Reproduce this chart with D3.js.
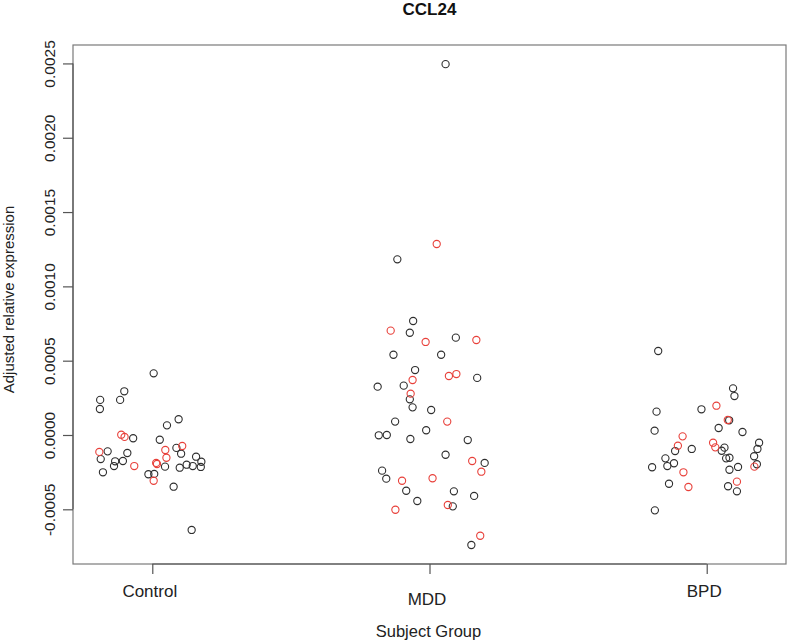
<!DOCTYPE html>
<html>
<head>
<meta charset="utf-8">
<script src="https://cdn.jsdelivr.net/npm/d3@7/dist/d3.min.js"></script>
<style>
  html, body { margin: 0; padding: 0; background: #fff; }
  svg { display: block; font-family: "Liberation Sans", Arial, Helvetica, sans-serif; }
</style>
</head>
<body>
<svg id="chart" width="788" height="642"></svg>
<script>
// ---------- data ----------
const title = "CCL24";
const xTitle = "Subject Group";
const yTitle = "Adjusted relative expression";
const categories = ["Control", "MDD", "BPD"];
const yTicks = [-0.0005, 0.0000, 0.0005, 0.0010, 0.0015, 0.0020, 0.0025];
const yTickLabels = ["-0.0005", "0.0000", "0.0005", "0.0010", "0.0015", "0.0020", "0.0025"];

// Control group: values, horizontal jitter (category units), colour flag (0 black, 1 red)
const controlValues = [0.000415, 0.000294, 0.000236, 0.000236, 0.000175, 0.000106, 0.000065, -0.000022, -0.000032, -0.000110,
  -0.000121, -0.000087, -0.000126, -0.000162, -0.000177, -0.000175, -0.000209, -0.000146, -0.000180, -0.000209,
  -0.000200, -0.000215, -0.000213, -0.000220, -0.000251, -0.000264, -0.000262, -0.000348, -0.000639,
  0.000002, -0.000013, -0.000114, -0.000209, -0.000101, -0.000153, -0.000074, -0.000188, -0.000195, -0.000308];
const controlJitter = [0.005, -0.101, -0.188, -0.116, -0.189, 0.095, 0.053, -0.069, 0.027, -0.161,
  -0.090, 0.087, 0.104, -0.186, -0.134, -0.106, -0.138, 0.158, 0.177, 0.146,
  0.124, 0.175, 0.046, 0.099, -0.178, -0.014, 0.007, 0.077, 0.142,
  -0.112, -0.100, -0.191, -0.065, 0.047, 0.051, 0.108, 0.014, 0.017, 0.005];
const controlRed = [0,0,0,0,0,0,0,0,0,0, 0,0,0,0,0,0,0,0,0,0, 0,0,0,0,0,0,0,0,0, 1,1,1,1,1,1,1,1,1,1];

const mddValues = [0.002495, 0.001182, 0.000767, 0.000688, 0.000655, 0.000540, 0.000540, 0.000437, 0.000384, 0.000325,
  0.000332, 0.000240, 0.000186, 0.000168, 0.000090, -0.000002, 0.000000, 0.000032, -0.000027, -0.000034,
  -0.000133, -0.000188, -0.000240, -0.000294, -0.000375, -0.000379, -0.000410, -0.000444, -0.000480, -0.000740,
  0.001285, 0.000702, 0.000626, 0.000639, 0.000370, 0.000397, 0.000410, 0.000278, 0.000090, -0.000175,
  -0.000247, -0.000308, -0.000291, -0.000471, -0.000503, -0.000678];
const mddJitter = [0.058, -0.116, -0.059, -0.071, 0.095, -0.130, 0.042, -0.052, 0.172, -0.187,
  -0.093, -0.071, -0.061, 0.006, -0.124, -0.183, -0.154, -0.012, -0.069, 0.138,
  0.058, 0.199, -0.171, -0.156, -0.084, 0.088, 0.161, -0.044, 0.084, 0.151,
  0.026, -0.140, -0.014, 0.169, -0.061, 0.070, 0.097, -0.068, 0.064, 0.154,
  0.187, -0.099, 0.011, 0.066, -0.123, 0.183];
const mddRed = [0,0,0,0,0,0,0,0,0,0, 0,0,0,0,0,0,0,0,0,0, 0,0,0,0,0,0,0,0,0,0,
  1,1,1,1,1,1,1,1,1,1, 1,1,1,1,1,1];

const bpdValues = [0.000565, 0.000314, 0.000262, 0.000173, 0.000157, 0.000099, 0.000047, 0.000029, 0.000020, -0.000108,
  -0.000094, -0.000085, -0.000106, -0.000052, -0.000094, -0.000143, -0.000157, -0.000157, -0.000153, -0.000190,
  -0.000209, -0.000217, -0.000197, -0.000215, -0.000234, -0.000328, -0.000345, -0.000379, -0.000507,
  0.000197, 0.000101, -0.000009, -0.000072, -0.000052, -0.000083, -0.000213, -0.000251, -0.000350, -0.000314];
const bpdJitter = [-0.175, 0.095, 0.100, -0.019, -0.181, 0.081, 0.043, -0.188, 0.129, -0.114,
  -0.054, 0.064, 0.054, 0.189, 0.183, 0.171, -0.149, 0.070, 0.082, -0.118,
  -0.142, -0.197, 0.181, 0.113, 0.082, -0.136, 0.077, 0.109, -0.187,
  0.035, 0.076, -0.087, -0.104, 0.023, 0.031, 0.172, -0.084, -0.066, 0.109];
const bpdRed = [0,0,0,0,0,0,0,0,0,0, 0,0,0,0,0,0,0,0,0,0, 0,0,0,0,0,0,0,0,0,
  1,1,1,1,1,1,1,1,1,1];

const groupValues = [controlValues, mddValues, bpdValues];
const groupJitter = [controlJitter, mddJitter, bpdJitter];
const groupRed = [controlRed, mddRed, bpdRed];

// ---------- layout ----------
const box = { left: 73, right: 786, top: 45, bottom: 564 };
const colBlack = "#2e2e2e";
const colRed = "#e8403a";

const svg = d3.select("#chart");

const x = d3.scaleLinear().domain([0.714, 3.286]).range([box.left, box.right]);
const y = d3.scaleLinear().domain([-0.000868, 0.002624]).range([box.bottom, box.top]);

// points
const points = [];
groupValues.forEach((vals, g) => {
  vals.forEach((v, i) => {
    points.push({ g: g + 1, v: v, j: groupJitter[g][i], red: groupRed[g][i] });
  });
});
points.sort((a, b) => a.red - b.red);

svg.append("g").selectAll("circle")
  .data(points)
  .enter().append("circle")
  .attr("cx", d => x(d.g + d.j))
  .attr("cy", d => y(d.v))
  .attr("r", 3.6)
  .attr("fill", "none")
  .attr("stroke", d => d.red ? colRed : colBlack)
  .attr("stroke-width", 1.1);

// box
svg.append("rect")
  .attr("x", box.left).attr("y", box.top)
  .attr("width", box.right - box.left).attr("height", box.bottom - box.top)
  .attr("fill", "none").attr("stroke", "#7a7a7a").attr("stroke-width", 1.2);

// y axis
const yAxis = d3.axisLeft(y).tickValues(yTicks).tickSize(10)
  .tickFormat((d, i) => yTickLabels[i]);
const gy = svg.append("g").attr("transform", `translate(${box.left},0)`).call(yAxis);
gy.select(".domain").attr("stroke", "#555").attr("stroke-width", 1.2)
  .attr("d", `M0,${y(yTicks[0])}V${y(yTicks[yTicks.length - 1])}`);
gy.selectAll(".tick line").attr("stroke", "#555").attr("stroke-width", 1.2);
gy.selectAll(".tick text")
  .attr("font-size", 15.5)
  .attr("fill", "#222")
  .attr("font-family", "Liberation Sans, Arial, sans-serif")
  .attr("text-anchor", "middle")
  .attr("x", 0).attr("dy", 0)
  .attr("transform", "translate(-18,0) rotate(-90)")
  .attr("y", 0);

// x axis
const xAxis = d3.axisBottom(x).tickValues([1, 2, 3]).tickSize(10)
  .tickFormat((d, i) => categories[i]);
const gx = svg.append("g").attr("transform", `translate(0,${box.bottom})`).call(xAxis);
gx.select(".domain").attr("stroke", "#555").attr("stroke-width", 1.2)
  .attr("d", `M${x(1)},0H${x(3)}`);
gx.selectAll(".tick line").attr("stroke", "#555").attr("stroke-width", 1.2);
gx.selectAll(".tick text")
  .attr("font-size", 17)
  .attr("fill", "#222")
  .attr("font-family", "Liberation Sans, Arial, sans-serif")
  .attr("dy", 0)
  .attr("x", -3)
  .attr("y", (d, i) => i === 1 ? 41 : 33);

// titles
svg.append("text")
  .attr("x", (box.left + box.right) / 2).attr("y", 15)
  .attr("text-anchor", "middle")
  .attr("font-size", 17).attr("font-weight", "bold").attr("fill", "#111")
  .text(title);

svg.append("text")
  .attr("x", (box.left + box.right) / 2 - 1).attr("y", 637)
  .attr("text-anchor", "middle")
  .attr("font-size", 16.5).attr("fill", "#222")
  .text(xTitle);

svg.append("text")
  .attr("transform", `translate(14,${(box.top + box.bottom) / 2 - 5}) rotate(-90)`)
  .attr("text-anchor", "middle")
  .attr("font-size", 15).attr("fill", "#222")
  .text(yTitle);
</script>
</body>
</html>
